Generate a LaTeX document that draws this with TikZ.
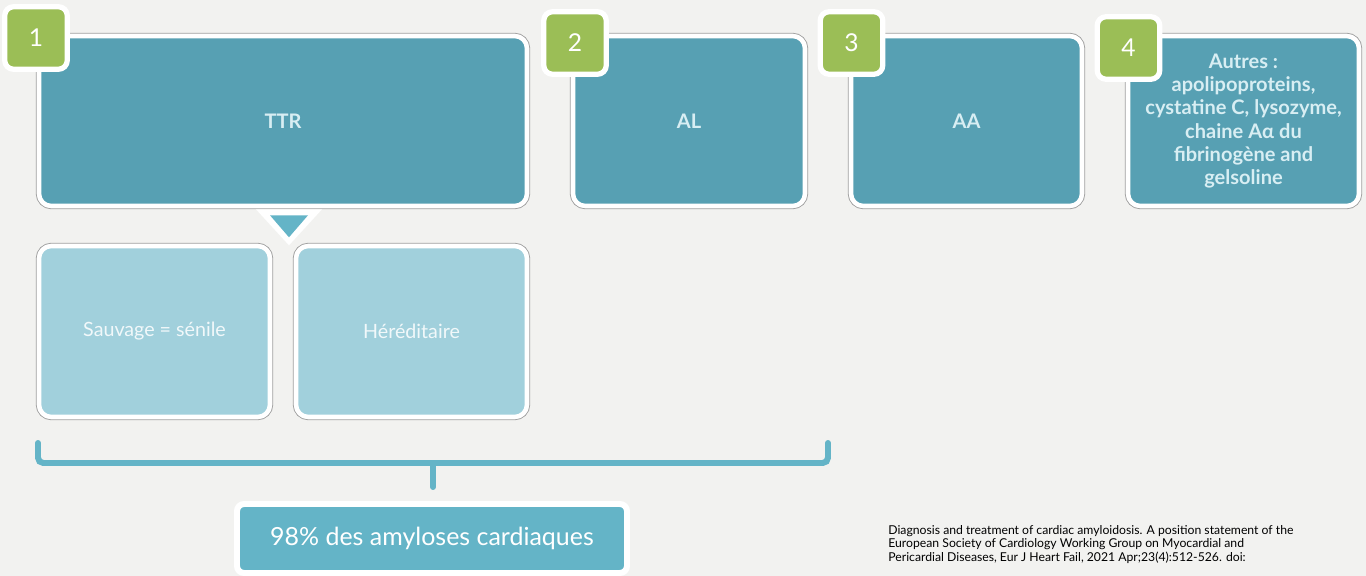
\documentclass[tikz,border=0pt]{standalone}
\usepackage{fontspec}
\setmainfont{Lato}
\usetikzlibrary{calc}
\definecolor{bgcol}{HTML}{F2F2F0}
\definecolor{tealdark}{HTML}{57A0B3}
\definecolor{teallight}{HTML}{A1D0DC}
\definecolor{tealbrace}{HTML}{64B4C7}
\definecolor{badgegreen}{HTML}{9BBE56}
\definecolor{boxtext}{HTML}{D8EEF3}
\tikzset{
	typebox/.style={rectangle, rounded corners=7pt, fill=tealdark, draw=white, line width=2.6pt,
		preaction={draw=black!38, line width=3.6pt}, text=boxtext, align=center,
		minimum height=3.4cm, font=\fontsize{11.4}{13.2}\selectfont\bfseries},
	subbox/.style={typebox, fill=teallight, text=white!85!teallight, minimum width=4.62cm,
		minimum height=3.42cm, font=\fontsize{11.2}{13}\selectfont},
	badge/.style={rectangle, rounded corners=5pt, fill=badgegreen, draw=white, line width=3pt,
		minimum size=1.25cm, text=white, font=\fontsize{14}{14}\selectfont},
	brace/.style={draw=tealbrace, line width=3.4pt, rounded corners=3pt, line cap=round}
}
\begin{document}
\begin{tikzpicture}
			%%%%% START %%%%%
			\useasboundingbox[fill=bgcol] (0, 0) rectangle (27.32, -11.52);
			
			\node[typebox, minimum width=9.76cm] (ttr) at (5.66, -2.42) {TTR};
			\node[typebox, minimum width=4.64cm] (al) at (13.78, -2.42) {AL};
			\node[typebox, minimum width=4.62cm] (aa) at (19.33, -2.42) {AA};
			\node[typebox, minimum width=4.62cm] (autres) at (24.87, -2.42)
				{Autres :\\apolipoproteins,\\cystatine C, lysozyme,\\chaine Aα du\\fibrinogène and\\gelsoline};
			
			\node[badge] (n1) at (0.72, -0.76) {1};
			\node[badge] (n2) at (11.5, -0.86) {2};
			\node[badge] (n3) at (17.03, -0.86) {3};
			\node[badge] (n4) at (22.57, -0.96) {4};
			
			\fill[white] ($(ttr.south)+(-0.54, -0.02)$) -- ++(1.32, 0) -- ($(ttr.south)+(0.12, -0.74)$) -- cycle;
			\fill[tealbrace] ($(ttr.south)+(-0.26, -0.14)$) -- ++(0.76, 0) -- ($(ttr.south)+(0.12, -0.58)$) -- cycle;
			
			\node[subbox] (sauvage) at (3.09, -6.63) {Sauvage = sénile};
			\node[subbox] (hered) at (8.23, -6.63) {Héréditaire};
			
			\coordinate (bl) at (0.76, -8.86);
			\coordinate (br) at (16.56, -8.86);
			\coordinate (bm) at (8.66, -9.26);
			\draw[brace] (bl) |- (br |- bm) -- (br);
			\draw[brace, rounded corners=0pt] (bm) -- ++(0, -0.48);
			
			\node[rectangle, rounded corners=4pt, fill=tealbrace, draw=white, line width=3.4pt,
				minimum width=7.8cm, minimum height=1.38cm, text=white,
				font=\fontsize{14.2}{17}\selectfont] (share) at (8.64, -10.77) {98\% des amyloses cardiaques};
			
			\node[anchor=north west, inner sep=0pt, align=left, font=\fontsize{6.95}{7.65}\selectfont] (source) at (17.76, -10.5)
				{Diagnosis and treatment of cardiac amyloidosis. A position statement of the\\
				European Society of Cardiology Working Group on Myocardial and\\
				Pericardial Diseases, Eur J Heart Fail, 2021 Apr;23(4):512-526. doi:};
			
			%%%%% END %%%%%
\end{tikzpicture}
\end{document}
